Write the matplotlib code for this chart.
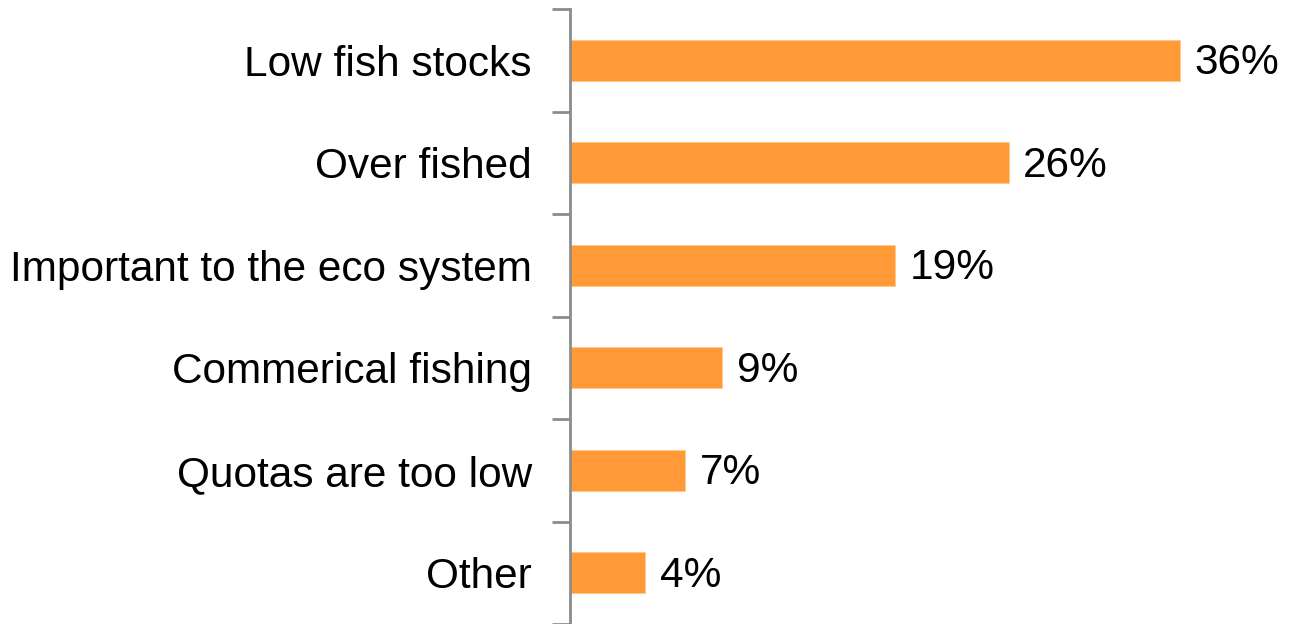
import numpy as np
import matplotlib
matplotlib.use("Agg")
import matplotlib.pyplot as plt

plt.rcParams["font.family"] = ["Liberation Sans", "DejaVu Sans"]

categories = ["Low fish stocks", "Over fished", "Important to the eco system",
              "Commerical fishing", "Quotas are too low", "Other"]
values = [36.0, 25.9, 19.2, 9.0, 6.8, 4.45]

_BAR = "#FF9A36"
_AXIS = "#8c8c8c"
_FS = 30.5

fig = plt.figure(figsize=(12.92, 6.24), dpi=100)
ax = fig.add_axes([570 / 1292, 0.0, 40 * 16.94 / 1292, 1 - 9 / 624])

y = np.arange(len(categories))
ax.barh(y, values, height=0.4, color=_BAR, edgecolor="#FFC890", linewidth=0.6)
for yi, v in zip(y, values):
    ax.text(v + 0.85, yi + 0.03, f"{v:.0f}%", va="center", ha="left", fontsize=_FS)

ax.set_xlim(0, 40)
ax.set_ylim(len(categories) - 0.5, -0.5)
ax.set_yticks(y)
ax.set_yticklabels(categories, fontsize=_FS)
ax.tick_params(axis="y", which="major", length=0, pad=27.5)
ax.set_yticks(np.arange(-0.5, len(categories)), minor=True)
ax.tick_params(axis="y", which="minor", length=13, width=2, color=_AXIS)
ax.set_xticks([])
for s in ("top", "right", "bottom"):
    ax.spines[s].set_visible(False)
ax.spines["left"].set_color(_AXIS)
ax.spines["left"].set_linewidth(2)

fig.savefig("out.png", dpi=100)
